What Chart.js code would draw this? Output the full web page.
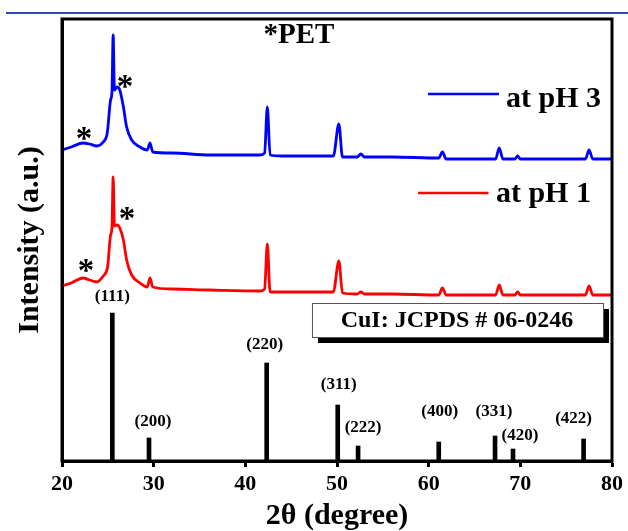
<!DOCTYPE html>
<html><head><meta charset="utf-8">
<script src="https://cdn.jsdelivr.net/npm/chart.js@4"></script>
<style>
html,body{margin:0;padding:0;background:#fff;}
#wrap{position:relative;width:628px;height:531px;}
#topline{position:absolute;left:6px;top:12px;width:622px;height:2px;background:#2a4bb3;}
</style></head><body>
<div id="wrap"><canvas id="c" width="628" height="531"></canvas><div id="topline"></div></div>
<script>
// ---- data ----
const twoTheta = [20.0,21.0,22.3,23.0,23.8,24.5,24.9,25.0,25.3,25.45,25.58,25.72,26.0,26.3,26.7,27.05,27.6,28.5,29.3,29.6,29.9,32.0,36.1,41.6,42.1,42.4,42.7,44.0,47.0,49.6,50.2,50.6,52.2,52.6,53.0,56.0,61.1,61.5,61.9,67.3,67.7,68.1,69.4,69.7,70.0,77.1,77.5,77.9,80.0];
const intensity_pH3 = [311,314,318,317,315,319,326,333,361,369,426,371,374,371,354,334,321,314,311,318,309,308,306,306,308,354,306,305,305,305,337,304,304,307,304,304,303,309,302,302,313,302,302,305,302,302,311,302,302];
const intensity_pH1 = [175,178,183,181,179,185,191,196,226,233,284,235,236,233,221,201,186,178,174,183,174,172,171,170,172,217,169,169,169,169,200,168,167,169,167,167,166,173,166,166,176,166,166,169,166,166,175,166,166];
const refPositions = [25.49,29.49,42.33,50.08,52.3,61.1,67.24,69.2,76.9];
const refIntensity = [148,23,98,56,15,19,25,12,22];
const refLabels = ['(111)','(200)','(220)','(311)','(222)','(400)','(331)','(420)','(422)'];
const xTicks = [20,30,40,50,60,70,80];
const seriesNames = ['at pH 3','at pH 1'];
const refTitle = 'CuI: JCPDS # 06-0246';

// ---- annotation layout (data coordinates / pixel nudges) ----
const labelNudge = [[0,-16],[4,-16],[-2,-18],[1,-20],[5,-18],[1,-30],[-1,-24],[7,-13],[-10,-20]];
const stars = [[22.4,329],[26.87,381],[22.62,197],[27.09,249]];
const petPos = [45.85,425];
const legendPos = [{x0:59.93,x1:67.67,y:367,tx:68.44,ty:362},{x0:58.84,x1:66.53,y:268,tx:67.34,ty:266.5}];
const boxPos = {x0:47.27,x1:79.02,y0:158,y1:124,tx:63.09,ty:140};

const SERIF = '"Liberation Serif","Times New Roman",serif';
Chart.defaults.font.family = SERIF;
Chart.defaults.color = '#000';
const colors = ['#0000ff','#ff0000'];

const annot = {
  id:'annot',
  afterDatasetsDraw(chart){
    const {ctx, chartArea:a, scales:{x,y}} = chart;
    ctx.save();
    ctx.strokeStyle='#000'; ctx.lineWidth=3;
    ctx.strokeRect(a.left, a.top, a.right-a.left, a.bottom-a.top);
    ctx.fillStyle='#000';
    ctx.font='bold 17px '+SERIF;
    ctx.textAlign='center'; ctx.textBaseline='middle';
    refPositions.forEach((p,i)=>{
      const px = x.getPixelForValue(p)+labelNudge[i][0];
      const py = y.getPixelForValue(refIntensity[i])+labelNudge[i][1];
      ctx.fillText(refLabels[i], px, py);
    });
    ctx.font='bold 33px '+SERIF;
    ctx.textBaseline='alphabetic';
    stars.forEach(s=>{
      ctx.fillText('*', x.getPixelForValue(s[0]), y.getPixelForValue(s[1])+17);
    });
    ctx.font='bold 29px '+SERIF;
    ctx.textBaseline='middle';
    ctx.fillText('*PET', x.getPixelForValue(petPos[0]), y.getPixelForValue(petPos[1]));
    legendPos.forEach((l,i)=>{
      ctx.strokeStyle=colors[i]; ctx.lineWidth=2.5;
      ctx.beginPath();
      ctx.moveTo(x.getPixelForValue(l.x0), y.getPixelForValue(l.y));
      ctx.lineTo(x.getPixelForValue(l.x1), y.getPixelForValue(l.y));
      ctx.stroke();
      ctx.fillStyle='#000';
      ctx.font='bold 30px '+SERIF;
      ctx.textAlign='left'; ctx.textBaseline='middle';
      ctx.fillText(seriesNames[i], x.getPixelForValue(l.tx), y.getPixelForValue(l.ty));
    });
    const bx0=x.getPixelForValue(boxPos.x0), bx1=x.getPixelForValue(boxPos.x1);
    const by0=y.getPixelForValue(boxPos.y0), by1=y.getPixelForValue(boxPos.y1);
    ctx.fillStyle='#000';
    ctx.fillRect(bx0+6, by0+6, bx1-bx0, by1-by0);
    ctx.fillStyle='#fff';
    ctx.fillRect(bx0, by0, bx1-bx0, by1-by0);
    ctx.strokeStyle='#555'; ctx.lineWidth=1;
    ctx.strokeRect(bx0+0.5, by0+0.5, bx1-bx0, by1-by0);
    ctx.fillStyle='#000';
    ctx.font='bold 24px '+SERIF;
    ctx.textAlign='center'; ctx.textBaseline='middle';
    ctx.fillText(refTitle, x.getPixelForValue(boxPos.tx), y.getPixelForValue(boxPos.ty));
    ctx.restore();
  }
};

new Chart(document.getElementById('c'), {
  type:'line',
  data:{
    datasets:[
      {label:seriesNames[0], data:twoTheta.map((v,i)=>({x:v,y:intensity_pH3[i]})), borderColor:colors[0], borderWidth:2.8, pointRadius:0, cubicInterpolationMode:'monotone', fill:false},
      {label:seriesNames[1], data:twoTheta.map((v,i)=>({x:v,y:intensity_pH1[i]})), borderColor:colors[1], borderWidth:2.8, pointRadius:0, cubicInterpolationMode:'monotone', fill:false},
      {type:'bar', label:refTitle, data:refPositions.map((v,i)=>({x:v,y:refIntensity[i]})), backgroundColor:'#000', borderWidth:0, barThickness:4}
    ]
  },
  options:{
    responsive:false, animation:false,
    layout:{padding:{top:19,right:16,left:0,bottom:0}},
    plugins:{legend:{display:false}, tooltip:{enabled:false}},
    scales:{
      x:{type:'linear', min:20, max:80, offset:false, bounds:'ticks',
        afterBuildTicks:a=>{a.ticks = xTicks.map(v=>({value:v}));},
        grid:{display:true, offset:false, drawOnChartArea:false, drawTicks:true, tickLength:6, tickWidth:3, tickColor:'#000'},
        border:{display:true, color:'#000', width:3},
        ticks:{color:'#000', font:{family:SERIF, weight:'bold', size:22}, padding:4, maxRotation:0, autoSkip:false},
        title:{display:true, text:'2θ (degree)', color:'#000', font:{family:SERIF, weight:'bold', size:30, lineHeight:1}, padding:{top:0,bottom:0}},
        afterFit:a=>{a.height=70;}
      },
      y:{min:0, max:442,
        ticks:{display:false}, grid:{display:false},
        border:{display:true, color:'#000', width:3},
        title:{display:true, text:'Intensity (a.u.)', color:'#000', font:{family:SERIF, weight:'bold', size:30, lineHeight:1}, padding:{top:15,bottom:0}},
        afterFit:a=>{a.width=62;}
      }
    }
  },
  plugins:[annot]
});
</script>
</body></html>
